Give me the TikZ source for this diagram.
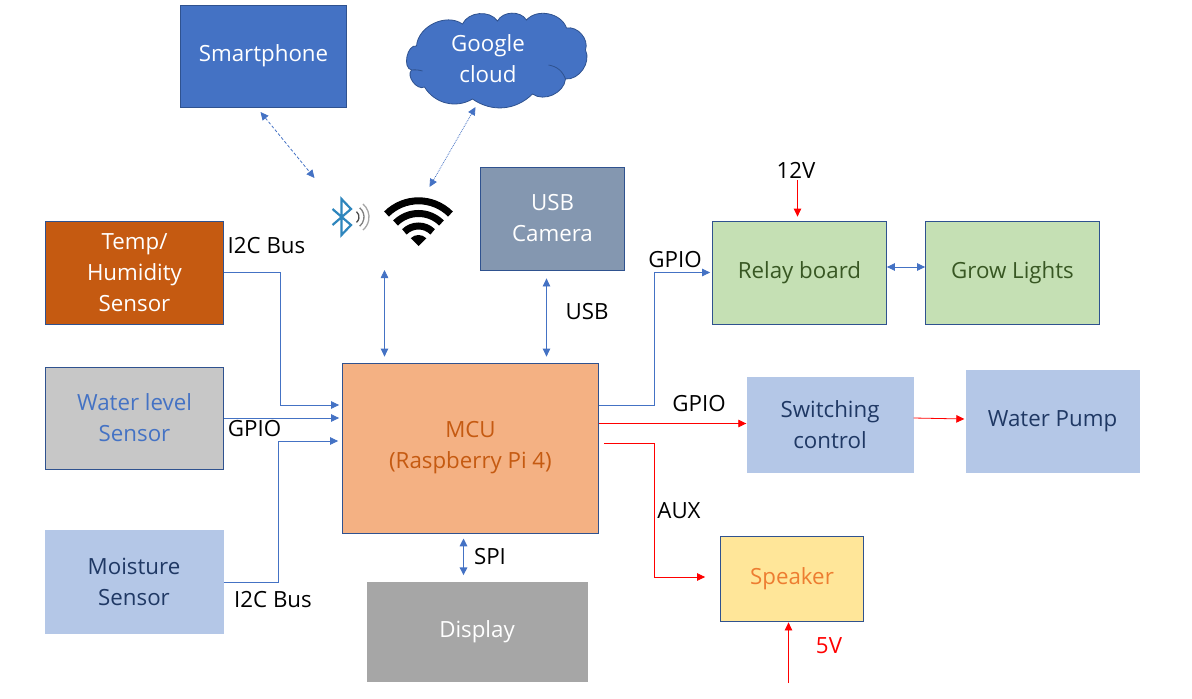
\documentclass[tikz,border=0pt]{standalone}
\usepackage{fontspec}
\setmainfont{Open Sans}
\usetikzlibrary{arrows.meta, calc}
\definecolor{edgeblue}{HTML}{2F528F}
\definecolor{lineblue}{HTML}{4472C4}
\definecolor{paleblue}{HTML}{B4C7E7}
\definecolor{navytext}{HTML}{1F3864}
\definecolor{rust}{HTML}{C55A11}
\definecolor{peach}{HTML}{F4B183}
\definecolor{slate}{HTML}{8497B0}
\definecolor{leaf}{HTML}{C5E0B4}
\definecolor{leaftext}{HTML}{385723}
\definecolor{btblue}{HTML}{2E86BD}
\definecolor{sand}{HTML}{FFE699}
\definecolor{amber}{HTML}{ED7D31}
\tikzset{
	block/.style={minimum width=#1, inner sep=0pt, align=center, text=white},
	edged/.style={draw=edgeblue, line width=0.8pt},
	lbl/.style={inner sep=0pt, text=black},
	tip/.style={-{Triangle[length=8pt,width=7.5pt]}},
	twotip/.style={{Triangle[length=8pt,width=7.5pt]}-{Triangle[length=8pt,width=7.5pt]}},
	blueline/.style={draw=lineblue, line width=0.8pt},
	redline/.style={draw=red, line width=0.8pt}
}
\begin{document}
\begin{tikzpicture}[x=1pt, y=-1pt, font=\fontsize{22.3}{31}\selectfont]
	\useasboundingbox (-0.5,0) rectangle (1191.5,699);
	% boxes
	\node[block=166pt, minimum height=102pt, edged, fill=lineblue] (phone) at (263,56) {Smartphone};
	\node[block=178pt, minimum height=103pt, edged, fill=rust] (temp) at (134,272.5) {Temp/\\Humidity\\Sensor};
	\node[block=178pt, minimum height=102pt, edged, fill=black!22, text=lineblue] (water) at (134,418) {Water level\\Sensor};
	\node[block=179pt, minimum height=104pt, fill=paleblue, text=navytext] (moist) at (133.5,582) {Moisture\\Sensor};
	\node[block=144pt, minimum height=103pt, edged, fill=slate] (camera) at (552,218.5) {USB\\Camera};
	\node[block=256pt, minimum height=170pt, edged, fill=peach, text=rust] (mcu) at (470,448) {MCU\\(Raspberry Pi 4)};
	\node[block=221pt, minimum height=100pt, fill=black!35] (display) at (476.5,631.5) {Display};
	\node[block=174pt, minimum height=103pt, edged, fill=leaf, text=leaftext] (relay) at (799,272.5) {Relay board};
	\node[block=174pt, minimum height=103pt, edged, fill=leaf, text=leaftext] (grow) at (1012,272.5) {Grow Lights};
	\node[block=167pt, minimum height=96pt, fill=paleblue, text=navytext] (switch) at (829.5,424.5) {Switching\\control};
	\node[block=174pt, minimum height=103pt, fill=paleblue, text=navytext] (pump) at (1052,421) {Water Pump};
	\node[block=143pt, minimum height=85pt, edged, fill=sand, text=amber] (speaker) at (791.5,578.5) {Speaker};

	% cloud
	\draw[edged, fill=lineblue] (416,46) to[bend left=60] (462,24) to[bend left=60] (497,21)
		to[bend left=60] (526,20) to[bend left=60] (566,28) to[bend left=60] (585,50)
		to[bend left=60] (565,79) to[bend left=60] (532,94) to[bend left=40] (472,99)
		to[bend left=45] (424,87) to[bend left=80] (411,70) to[bend left=90] (416,46);
	\draw[edged] (411,70) to[bend left=10] (422,71);
	\draw[edged] (548,65) to[bend left=30] (565,79);
	\node[block=100pt, text=white] (cloud) at (487.5,58.5) {Google\\cloud};

	% bluetooth
	\draw[btblue, line width=2.2pt, line join=miter] (332,225) -- (350.5,209) -- (341,199) -- (341,235) -- (350.5,225) -- (332,209);
	\foreach \r/\c in {7/70, 12/50, 17/35} {
		\draw[black!\c, line width=1.3pt] (351.5,217) ++(-50:\r) arc[start angle=50, end angle=-50, radius=\r pt];
	}
	\coordinate (btspot) at (314,178);
	% wifi
	\coordinate (wifispot) at (418,246);
	\foreach \r in {45.2, 32.5, 20} {
		\draw[line width=7pt] (wifispot) ++(225:\r) arc[start angle=135, end angle=45, radius=\r pt];
	}
	\fill (wifispot) -- ++(225:11) arc[start angle=135, end angle=45, radius=11pt] -- cycle;

	% dashed links
	\coordinate (phonelink) at (260,112);
	\draw[blueline, densely dashed, twotip] (phonelink) -- (btspot);
	\coordinate (cloudlink) at (475,107);
	\coordinate (wifilink) at (429,187);
	\draw[blueline, densely dotted, twotip] (cloudlink) -- (wifilink);

	% links into the mcu
	\draw[blueline, tip] (temp.east) -- ++(56,0) |- ([xshift=-3pt,yshift=43pt]mcu.west);
	\draw[blueline, tip] (water.east) -- ([xshift=-3pt,yshift=30pt]mcu.west);
	\draw[blueline, tip] (moist.east) -- ++(55,0) |- ([xshift=-4pt,yshift=7pt]mcu.west);
	\coordinate (wifibase) at (384,270);
	\draw[blueline, twotip] (wifibase) -- ([yshift=6pt]mcu.north -| wifibase);
	\draw[blueline, twotip] ([yshift=-8pt]camera.south -| 546,0) -- ([yshift=6pt]mcu.north -| 546,0);
	\draw[lineblue, line width=1.6pt, twotip] ([yshift=-5pt]mcu.south -| 463,0) -- ([yshift=6pt]display.north -| 463,0);

	% links out of the mcu
	\draw[blueline, tip] ([yshift=43pt]mcu.east) -- ++(55,0) |- ([xshift=-2pt]relay.west);
	\draw[blueline, twotip] (relay.east |- 0,267) -- (grow.west |- 0,267);
	\draw[redline, tip] ([yshift=24.5pt]mcu.east) -- (switch.west |- 0,423.5);
	\draw[redline, tip] (switch.east |- 0,418) -- ([xshift=-1pt]pump.west |- 0,419);
	\draw[redline, tip] ([xshift=5pt,yshift=5pt]mcu.east) -- ++(50,0) |- ([xshift=-15pt,yshift=1.5pt]speaker.west);
	\coordinate (topv) at (797,180);
	\draw[redline, tip] (topv) -- ([yshift=4pt]relay.north -| topv);
	\coordinate (fivev) at (788,683);
	\draw[redline, tip] (fivev) -- ([yshift=-1pt]speaker.south -| fivev);

	% labels
	\node[lbl] (busa) at (266,246) {I2C Bus};
	\node[lbl] (gpioa) at (254,429) {GPIO};
	\node[lbl] (busb) at (272.5,600) {I2C Bus};
	\node[lbl] (usb) at (586.5,312) {USB};
	\node[lbl] (gpiob) at (674.5,260) {GPIO};
	\node[lbl] (gpioc) at (698.5,404) {GPIO};
	\node[lbl] (aux) at (678.5,511) {AUX};
	\node[lbl] (spi) at (489.5,557) {SPI};
	\node[lbl] (twelve) at (795.5,170) {12V};
	\node[lbl, text=red] (five) at (828.5,646) {5V};
\end{tikzpicture}
\end{document}
